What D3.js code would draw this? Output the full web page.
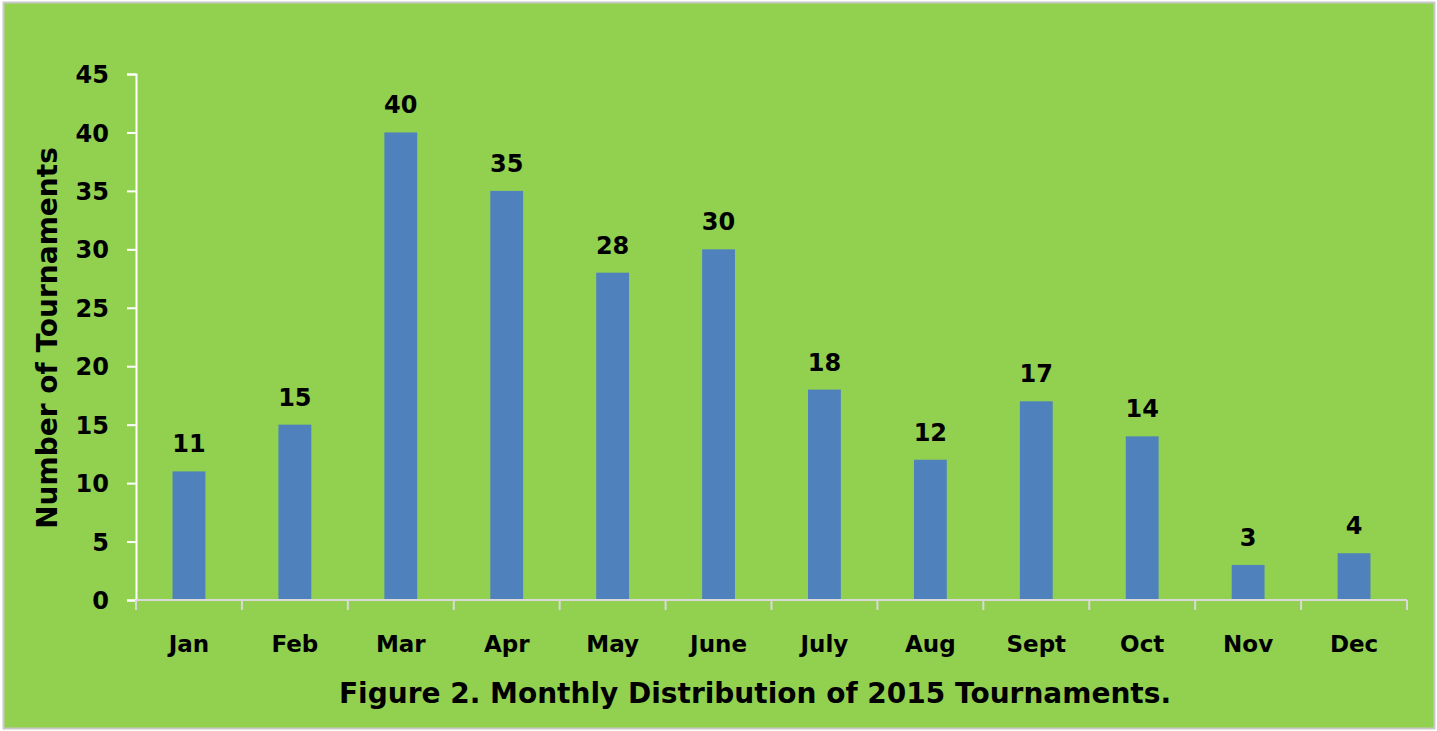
<!DOCTYPE html>
<html>
<head>
<meta charset="utf-8">
<script src="https://cdn.jsdelivr.net/npm/d3@7"></script>
<style>
  html, body { margin: 0; padding: 0; background: #fff; }
  svg text { font-family: "Comic Sans MS", "DejaVu Sans", sans-serif; font-weight: bold; fill: #000; }
</style>
</head>
<body>
<svg id="chart" width="1437" height="731"></svg>
<script>
// values
const months = ["Jan", "Feb", "Mar", "Apr", "May", "June", "July", "Aug", "Sept", "Oct", "Nov", "Dec"];
const tournaments = [11, 15, 40, 35, 28, 30, 18, 12, 17, 14, 3, 4];
const yTicks = [0, 5, 10, 15, 20, 25, 30, 35, 40, 45];

const width = 1437, height = 731;
const plot = { left: 136, right: 1407, top: 74, bottom: 600 };

const svg = d3.select("#chart");

// green panel with thin grey frame
svg.append("rect")
  .attr("x", 3.5).attr("y", 2.5)
  .attr("width", width - 6).attr("height", height - 5)
  .attr("fill", "#92d050")
  .attr("stroke", "#c9c9c9")
  .attr("stroke-width", 2);

const x = d3.scaleBand()
  .domain(months)
  .range([plot.left, plot.right])
  .paddingInner(0.69)
  .paddingOuter(0.345);

const y = d3.scaleLinear().domain([0, 45]).range([plot.bottom, plot.top]);

// bars
svg.append("g").selectAll("rect")
  .data(months)
  .join("rect")
  .attr("x", (d) => x(d))
  .attr("y", (d, i) => y(tournaments[i]))
  .attr("width", x.bandwidth())
  .attr("height", (d, i) => y(0) - y(tournaments[i]))
  .attr("fill", "#4f81bd");

// value labels
svg.append("g").selectAll("text")
  .data(months)
  .join("text")
  .attr("x", (d) => x(d) + x.bandwidth() / 2)
  .attr("y", (d, i) => y(tournaments[i]) - 19)
  .attr("text-anchor", "middle")
  .attr("font-size", 24)
  .text((d, i) => tournaments[i]);

// y axis
const yAxis = svg.append("g")
  .attr("transform", `translate(${plot.left},0)`)
  .call(d3.axisLeft(y).tickValues(yTicks).tickSize(9).tickPadding(18));
yAxis.select(".domain").attr("stroke", "#ffffff").attr("stroke-width", 2);
yAxis.selectAll(".tick line").attr("stroke", "#ffffff").attr("stroke-width", 2);
yAxis.selectAll(".tick text")
  .attr("font-size", 24)
  .attr("font-family", null)
  .attr("dy", "0.36em");

// x axis: ticks sit on the category boundaries
const boundaries = d3.range(months.length + 1).map((i) => plot.left + i * x.step());
const xAxis = svg.append("g").attr("transform", `translate(0,${plot.bottom})`);
xAxis.append("line")
  .attr("x1", plot.left).attr("x2", plot.right)
  .attr("stroke", "#d9d9d9").attr("stroke-width", 2);
xAxis.selectAll(".bt")
  .data(boundaries)
  .join("line")
  .attr("x1", (d) => d).attr("x2", (d) => d)
  .attr("y1", 0).attr("y2", 10)
  .attr("stroke", "#d9d9d9").attr("stroke-width", 2);
xAxis.selectAll("text")
  .data(months)
  .join("text")
  .attr("x", (d) => x(d) + x.bandwidth() / 2)
  .attr("y", 52)
  .attr("text-anchor", "middle")
  .attr("font-size", 23)
  .text((d) => d);

// axis title
svg.append("text")
  .attr("transform", "translate(57,338) rotate(-90)")
  .attr("text-anchor", "middle")
  .attr("font-size", 28)
  .text("Number of Tournaments");

// caption
svg.append("text")
  .attr("x", 755)
  .attr("y", 703)
  .attr("text-anchor", "middle")
  .attr("font-size", 28)
  .text("Figure 2. Monthly Distribution of 2015 Tournaments.");
</script>
</body>
</html>
